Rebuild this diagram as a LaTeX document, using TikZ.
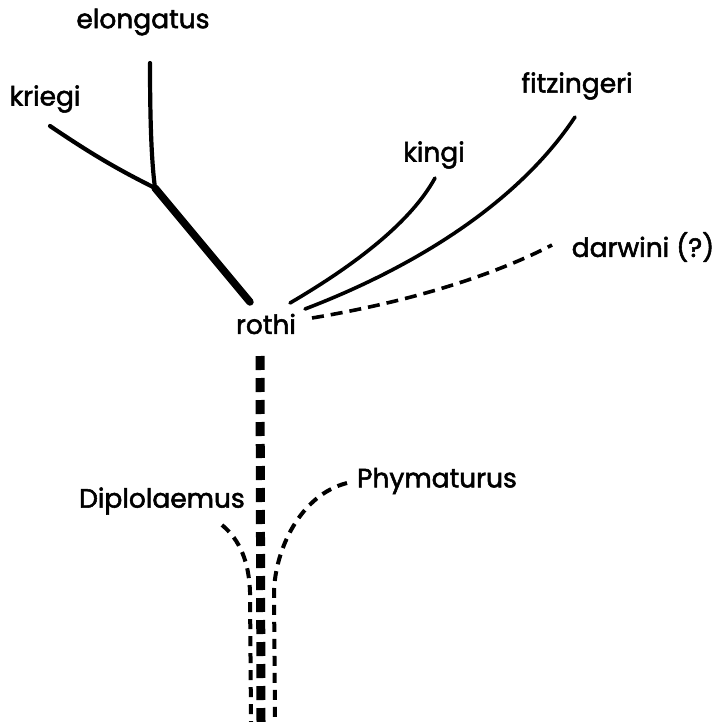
\documentclass[tikz,border=0pt]{standalone}
\usepackage{fontspec}
\setmainfont{Poppins}
\newfontfamily\labfont{Poppins}[RawFeature={embolden=2}]
\begin{document}
\begin{tikzpicture}[x=1pt,y=-1pt,
  lab/.style={inner sep=0pt,font=\labfont\fontsize{26.5}{28}\selectfont},
  branch/.style={line width=4.2pt,line cap=round},
  thinbranch/.style={line width=3.6pt,line cap=round},
  thickbranch/.style={line width=7.5pt,line cap=round},
  dashbranch/.style={line width=4pt,dash pattern=on 10pt off 7pt},
  trunk/.style={line width=9pt,dash pattern=on 14pt off 8pt}]
\useasboundingbox (0,0) rectangle (721,722);
% labels
\node[lab] (elong) at (143,22) {elongatus};
\node[lab] (krieg) at (45,99) {kriegi};
\node[lab] (king) at (434,155) {kingi};
\node[lab] (fitz) at (577,86) {fitzingeri};
\node[lab] (darw) at (643,247) {darwini (?)};
\node[lab] (roth) at (266,324) {rothi};
\node[lab] (dipl) at (162,501) {Diplolaemus};
\node[lab] (phym) at (437,481) {Phymaturus};
% coordinates
\coordinate (fork) at (155,188);
\coordinate (elongE) at (150,63);
\coordinate (kriegE) at (50,126);
\coordinate (rothA) at (250,302);
\coordinate (rothK) at (290,303);
\coordinate (rothF) at (305,309);
\coordinate (rothD) at (312,318);
\coordinate (kingE) at (435,178);
\coordinate (fitzE) at (575,117);
\coordinate (darwE) at (552,245);
\coordinate (diplE) at (222,525);
\coordinate (phymE) at (347,483);
\coordinate (trunkT) at (260,356);
\coordinate (trunkB) at (261,722);
\coordinate (diplB) at (251,722);
\coordinate (phymB) at (275,722);
% branches
\draw[branch] (elongE) .. controls (150,130) and (152,165) .. (fork);
\draw[branch] (kriegE) .. controls (90,153) and (115,168) .. (fork);
\draw[thickbranch] (fork) -- (rothA);
\draw[thinbranch] (rothK) .. controls (360,262) and (412,220) .. (kingE);
\draw[thinbranch] (rothF) .. controls (420,265) and (520,200) .. (fitzE);
\draw[dashbranch,line width=3.6pt,dash pattern=on 12pt off 7pt] (rothD) .. controls (420,300) and (500,272) .. (darwE);
\draw[trunk] (trunkT) -- (trunkB);
\draw[dashbranch] (diplE) .. controls (240,540) and (249,562) .. (250,592) -- (diplB);
\draw[dashbranch] (phymE) .. controls (300,495) and (275,550) .. (274,592) -- (phymB);
\end{tikzpicture}
\end{document}
